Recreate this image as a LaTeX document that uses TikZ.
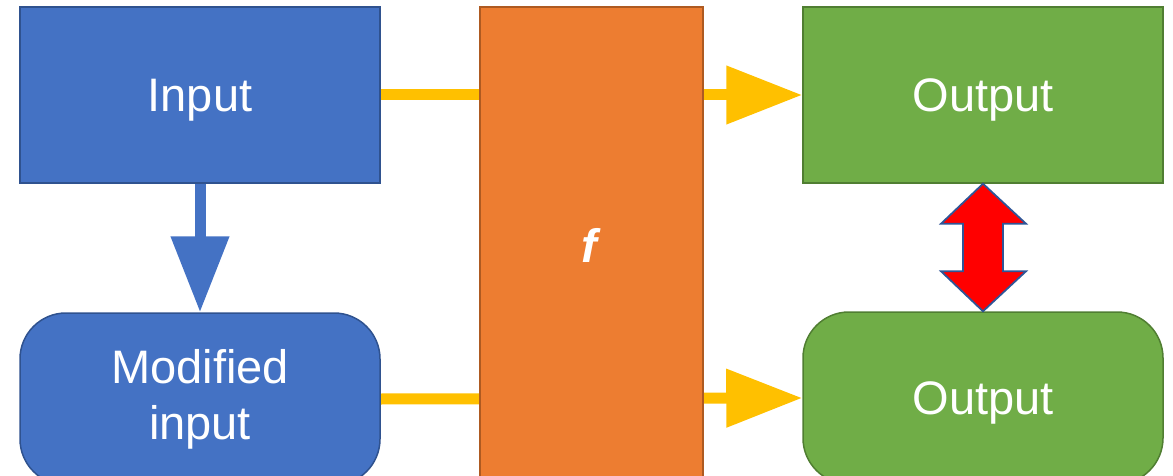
\documentclass[tikz,border=0pt]{standalone}
\usepackage{fontspec}
\setmainfont{Liberation Sans}
\usetikzlibrary{arrows.meta,calc,backgrounds}
\definecolor{boxblue}{HTML}{4472C4}
\definecolor{boxblueline}{HTML}{2F528F}
\definecolor{boxgreen}{HTML}{70AD47}
\definecolor{boxgreenline}{HTML}{507E32}
\definecolor{boxorange}{HTML}{ED7D31}
\definecolor{boxorangeline}{HTML}{AE5A21}
\definecolor{flowyellow}{HTML}{FFC000}
\definecolor{arrowred}{HTML}{FF0000}
\definecolor{arrowredline}{HTML}{2F5597}
\begin{document}
\begin{tikzpicture}[x=1pt, y=-1pt,
  box/.style={draw, line width=1.5pt, text=white, inner sep=0pt, align=center,
    font=\fontsize{47}{56}\selectfont, minimum width=360pt, minimum height=176pt},
  oneline/.style={text depth=0pt},
  bluebox/.style={box, fill=boxblue, draw=boxblueline},
  greenbox/.style={box, fill=boxgreen, draw=boxgreenline},
  roundbox/.style={rounded corners=46pt, minimum height=172pt},
  fbox/.style={box, fill=boxorange, draw=boxorangeline, minimum width=223pt, minimum height=476pt},
  flow/.style={draw=flowyellow, line width=11pt,
    -{Triangle[length=76pt, width=56pt]}},
  down/.style={draw=boxblue, line width=11pt,
    -{Triangle[length=76pt, width=56pt]}},
  swap/.style={fill=arrowred, draw=arrowredline, line width=1.8pt, line join=miter}]
\useasboundingbox (0,0) rectangle (1173,476);
\clip (0,0) rectangle (1173,476);

% boxes
\node[bluebox, oneline] (in) at (200,95) {Input};
\node[bluebox, roundbox] (mod) at (200,399) {Modified\\input};
\node[fbox] (f) at (591.5,245) {\textbf{\textit{f}}};
\node[greenbox, oneline] (out1) at (983,95) {Output};
\node[greenbox, roundbox, oneline] (out2) at (983,398) {Output};

% connectors
\begin{scope}[on background layer]
  \draw[flow] (in.east) -- (out1.west);
  \draw[flow] (mod.east) -- (out2.west);
\end{scope}
\draw[down] (in.south) -- (mod.north);

% two-headed block arrow between the outputs
\draw[swap] (out1.south)
  -- ($(out1.south)+(43,40)$) -- ($(out1.south)+(20,40)$)
  -- ($(out2.north)+(20,-40)$) -- ($(out2.north)+(43,-40)$)
  -- (out2.north)
  -- ($(out2.north)+(-42,-40)$) -- ($(out2.north)+(-20,-40)$)
  -- ($(out1.south)+(-20,40)$) -- ($(out1.south)+(-42,40)$)
  -- cycle;
\end{tikzpicture}
\end{document}
